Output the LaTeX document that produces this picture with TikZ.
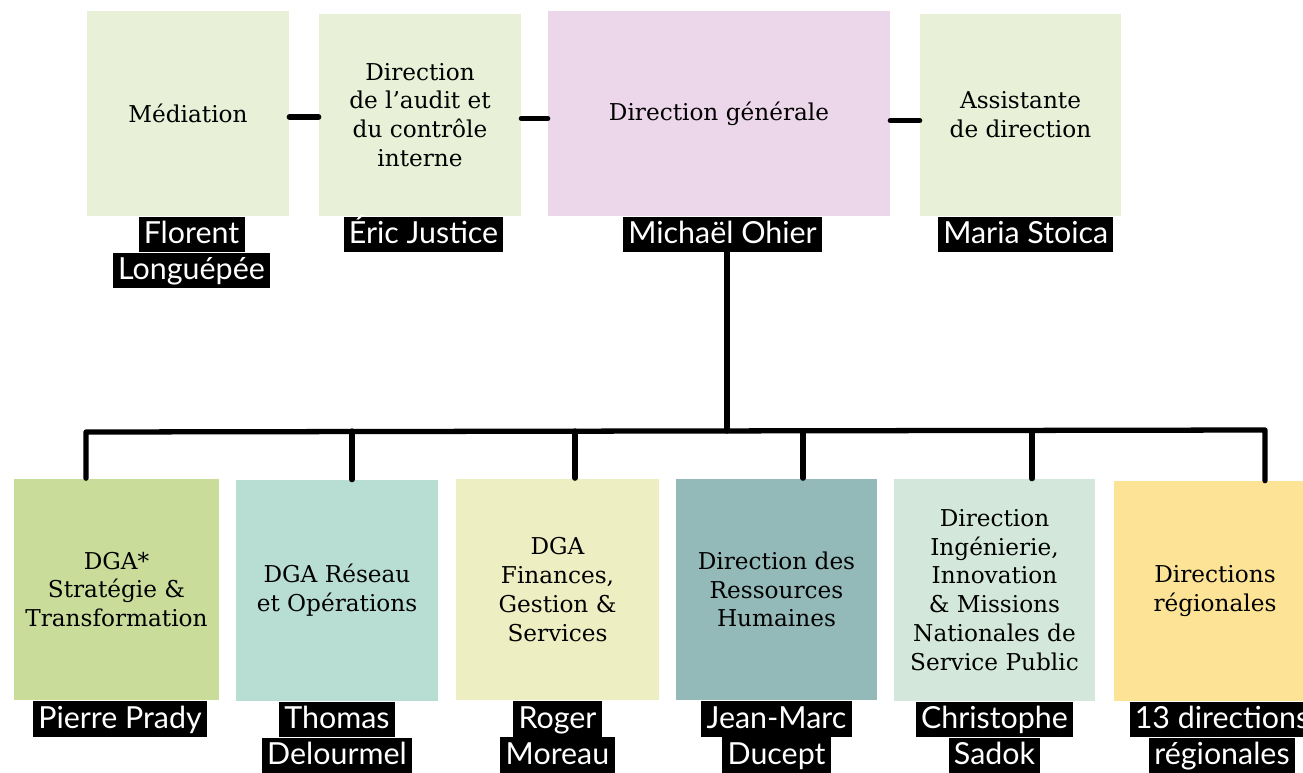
\documentclass[tikz,border=0pt]{standalone}
\usepackage{fontspec}
\setmainfont{DejaVu Serif}
\newfontfamily\namefont{Lato}

\definecolor{topgreen}{HTML}{E8F0D8}
\definecolor{dgpink}{HTML}{ECD6EA}
\definecolor{stratgreen}{HTML}{C9DC9A}
\definecolor{reseaublue}{HTML}{B8DED3}
\definecolor{financeyellow}{HTML}{EDEEC2}
\definecolor{rhteal}{HTML}{94B9B9}
\definecolor{ingmint}{HTML}{D3E8DB}
\definecolor{regyellow}{HTML}{FDE396}

\begin{document}
\begin{tikzpicture}[x=0.02cm,y=-0.02cm,font=\fontsize{13.2}{16.4}\selectfont]
    \tikzset{
        unitbox/.style={
            rectangle,
            inner sep=0pt,
            align=center,
            minimum width=4.04cm,
            minimum height=4.44cm
        },
        namebox/.style={
            fill=black,
            text=white,
            inner xsep=3pt,
            inner ysep=0.5pt,
            text height=14.8pt,
            text depth=4.3pt,
            font=\namefont\fontsize{17.3}{19}\selectfont
        },
        link/.style={
            line width=3pt,
            line cap=round,
            line join=round
        }
    }

    \useasboundingbox (0,0) rectangle (1303,772);

    % top row
    \node[unitbox,fill=topgreen,minimum height=4.1cm] (med) at (188,113.5) {M\'ediation};
    \node[unitbox,fill=topgreen,minimum height=4.04cm] (aud) at (420,115)
        {Direction\\de l'audit et\\du contr\^ole\\interne};
    \node[unitbox,fill=dgpink,minimum width=6.84cm,minimum height=4.1cm] (dg) at (719,113.5)
        {Direction g\'en\'erale};
    \node[unitbox,fill=topgreen,minimum width=4.02cm,minimum height=4.04cm] (ass) at (1020.5,115)
        {Assistante\\de direction};

    \node[namebox] (medn1) at ([xshift=2pt] med.south) [anchor=north]{Florent};
    \node[namebox] (medn2) at (medn1.south) [anchor=north]{Longu\'ep\'ee};
    \node[namebox] (audn) at ([xshift=2pt] aud.south) [anchor=north]{\'Eric Justice};
    \node[namebox] (ohier) at ([xshift=2pt] dg.south) [anchor=north]{Micha\"el Ohier};
    \node[namebox] (assn) at ([xshift=3pt] ass.south) [anchor=north]{Maria Stoica};

    % bottom row
    \node[unitbox,fill=stratgreen,minimum width=4.1cm] (dga1) at (116.5,589.5)
        {DGA*\\Strat\'egie \&\\Transformation};
    \node[unitbox,fill=reseaublue,minimum height=4.42cm] (dga2) at (337,590.5)
        {DGA R\'eseau\\et Op\'erations};
    \node[unitbox,fill=financeyellow,minimum width=4.06cm] (dga3) at (557.5,589.5)
        {DGA\\Finances,\\Gestion \&\\Services};
    \node[unitbox,fill=rhteal,minimum width=4.02cm] (drh) at (776.5,589.5)
        {Direction des\\Ressources\\Humaines};
    \node[unitbox,fill=ingmint,minimum width=4.02cm,minimum height=4.44cm] (ing) at (994.5,590)
        {Direction\\Ing\'enierie,\\Innovation\\\& Missions\\Nationales de\\Service Public};
    \node[unitbox,fill=regyellow,minimum height=4.4cm] (reg) at (1215,591)
        {Directions\\r\'egionales};

    \node[namebox] (dga1n) at ([xshift=2pt] dga1.south) [anchor=north]{Pierre Prady};
    \node[namebox] (dga2n1) at (dga2.south) [anchor=north]{Thomas};
    \node[namebox] (dga2n2) at (dga2n1.south) [anchor=north]{Delourmel};
    \node[namebox] (dga3n1) at (dga3.south) [anchor=north]{Roger};
    \node[namebox] (dga3n2) at (dga3n1.south) [anchor=north]{Moreau};
    \node[namebox] (drhn1) at (drh.south) [anchor=north]{Jean-Marc};
    \node[namebox] (drhn2) at (drhn1.south) [anchor=north]{Ducept};
    \node[namebox] (ingn1) at (ing.south) [anchor=north]{Christophe};
    \node[namebox] (ingn2) at (ingn1.south) [anchor=north]{Sadok};
    \node[namebox] (regn1) at ([xshift=4pt] reg.south) [anchor=north]{13 directions};
    \node[namebox] (regn2) at (regn1.south) [anchor=north]{r\'egionales};

    % links of the top row
    \draw[link] ([yshift=-2pt] med.east) -- ([yshift=-2pt] med.east -| aud.west);
    \draw[link] ([yshift=-2pt] aud.east) -- ([yshift=-2pt] aud.east -| dg.west);
    \draw[link] ([yshift=-4pt] dg.east) -- ([yshift=-4pt] dg.east -| ass.west);

    % tree down to the bottom row
    \coordinate (hub) at (727,431);
    \coordinate (b1) at (86,432);
    \coordinate (b6) at (1265,430);
    \draw[link] (ohier.south -| hub) -- (hub);
    \draw[link] (b1 |- dga1.north) -- (b1) -- (b6) -- (b6 |- reg.north);
    \draw[link] (352,431) -- (dga2.north -| 352,0);
    \draw[link] (575,431) -- (dga3.north -| 575,0);
    \draw[link] (803,431) -- (drh.north -| 803,0);
    \draw[link] (1032,431) -- (ing.north -| 1032,0);
\end{tikzpicture}
\end{document}
